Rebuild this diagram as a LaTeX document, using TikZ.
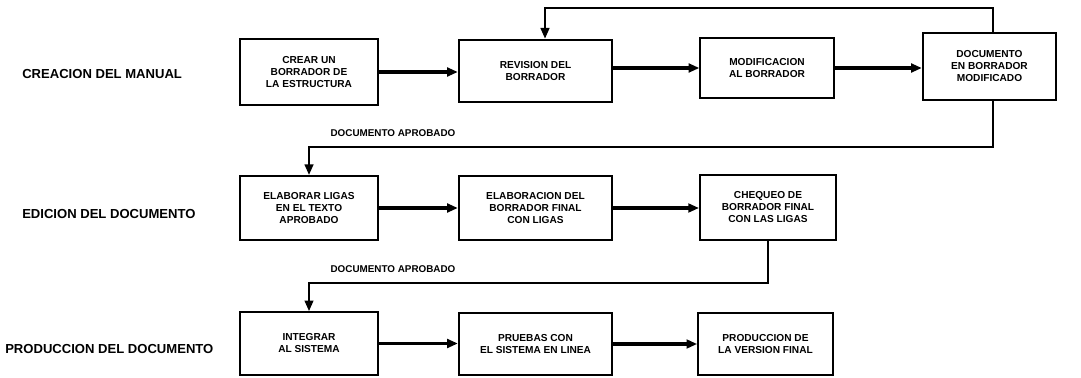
\documentclass[tikz,border=0pt]{standalone}
\usepackage{fontspec}
\setmainfont{Liberation Sans}
\usetikzlibrary{arrows.meta, positioning}

\begin{document}
\begin{tikzpicture}[
    x=0.75pt, y=-0.75pt, >={Triangle[length=8pt, width=6.5pt]},
    every node/.style={font=\bfseries\fontsize{7.6}{9}\selectfont, align=center},
    stepbox/.style={draw, line width=1.5pt, inner sep=0pt},
    phase/.style={anchor=west, inner sep=0pt, font=\bfseries\fontsize{9.8}{11}\selectfont},
    note/.style={font=\bfseries\fontsize{7.4}{9}\selectfont},
    flow/.style={->, line width=2.4pt},
    back/.style={->, line width=1.7pt}
]
\useasboundingbox (0,0) rectangle (1081,378);

% fases
\node (phase_manual) [phase] at (22,74) {CREACION DEL MANUAL};
\node (phase_edicion) [phase] at (22,214) {EDICION DEL DOCUMENTO};
\node (phase_produccion) [phase] at (5,349) {PRODUCCION DEL DOCUMENTO};

% primera fila
\node (crear_borrador) [stepbox, minimum width=103pt, minimum height=49pt] at (309,72) {CREAR UN\\ BORRADOR DE\\ LA ESTRUCTURA};
\node (revision_borrador) [stepbox, minimum width=115pt, minimum height=47pt] at (535.5,71) {REVISION DEL\\ BORRADOR};
\node (modif_borrador) [stepbox, minimum width=100pt, minimum height=45pt] at (767,68) {MODIFICACION\\ AL BORRADOR};
\node (doc_modificado) [stepbox, minimum width=100pt, minimum height=50pt] at (989.5,66.5) {DOCUMENTO\\ EN BORRADOR\\ MODIFICADO};

% segunda fila
\node (elaborar_ligas) [stepbox, minimum width=103pt, minimum height=48pt] at (309,208) {ELABORAR LIGAS\\ EN EL TEXTO\\ APROBADO};
\node (borrador_final) [stepbox, minimum width=115pt, minimum height=48pt] at (535.5,208) {ELABORACION DEL\\ BORRADOR FINAL\\ CON LIGAS};
\node (chequeo_ligas) [stepbox, minimum width=102pt, minimum height=49pt] at (768,207.5) {CHEQUEO DE\\ BORRADOR FINAL\\ CON LAS LIGAS};

% tercera fila
\node (integrar_sistema) [stepbox, minimum width=103pt, minimum height=47pt] at (309,343.5) {INTEGRAR\\ AL SISTEMA};
\node (pruebas_linea) [stepbox, minimum width=115pt, minimum height=46pt] at (535.5,344) {PRUEBAS CON\\ EL SISTEMA EN LINEA};
\node (produccion_final) [stepbox, minimum width=101pt, minimum height=46pt] at (765.5,344) {PRODUCCION DE\\ LA VERSION FINAL};

\node (aprobado_uno) [note] at (393,133) {DOCUMENTO APROBADO};
\node (aprobado_dos) [note] at (393,269) {DOCUMENTO APROBADO};

\coordinate (loop_right) at (993,8);
\coordinate (loop_left) at (545,8);
\coordinate (bend_uno) at (993,147);
\coordinate (bend_dos) at (768,283);

\draw[flow] (crear_borrador.east) -- (crear_borrador.east -| revision_borrador.west);
\draw[flow] (modif_borrador.west -| revision_borrador.east) -- (modif_borrador.west);
\draw[flow] (modif_borrador.east) -- (modif_borrador.east -| doc_modificado.west);
\draw[back] (doc_modificado.north -| loop_right) -- (loop_right) -- (loop_left) -- (revision_borrador.north -| loop_left);
\draw[back] (doc_modificado.south -| bend_uno) -- (bend_uno) -| (elaborar_ligas.north);

\draw[flow] (elaborar_ligas) -- (borrador_final);
\draw[flow] (borrador_final.east) -- (borrador_final.east -| chequeo_ligas.west);
\draw[back] (chequeo_ligas.south) -- (bend_dos) -| (integrar_sistema.north);

\draw[flow] (integrar_sistema.east) -- (integrar_sistema.east -| pruebas_linea.west);
\draw[flow] (pruebas_linea) -- (produccion_final);
\end{tikzpicture}
\end{document}
